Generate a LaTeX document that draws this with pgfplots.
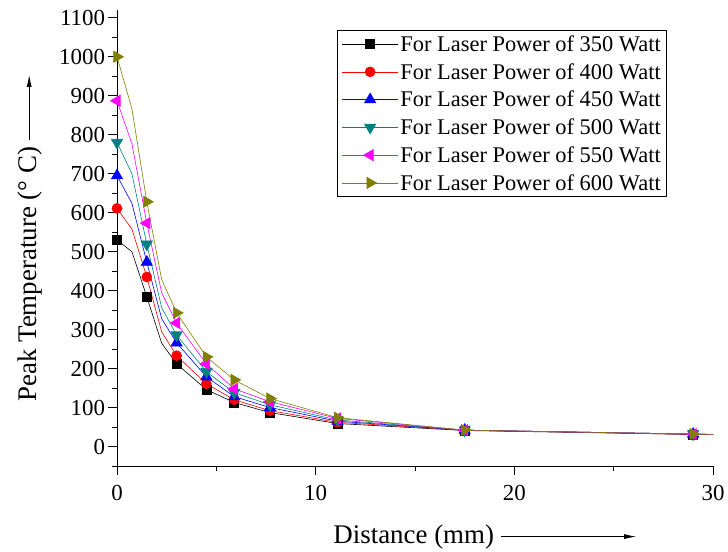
\documentclass[border=0pt]{standalone}
\usepackage{pgfplots}
\pgfplotsset{compat=1.18}
\usepackage{pgfplotstable}
\usepackage{fontspec}
\setmainfont{Liberation Serif}
\usetikzlibrary{arrows.meta}
\definecolor{cteal}{RGB}{0,128,128}
\definecolor{colive}{RGB}{128,128,0}
\definecolor{cmag}{RGB}{255,0,255}
\pgfplotstableread{
x     a     b     c     d     e     f
0     530   611   695   780   887   1000
0.75  500   558   624   700   777   867
1.5   384   435   473   519   573   628
2.25  265   294   328   356   394   428
3     212   233   266   286   317   343
4.5   146   161   179   192   212   230
5.9   113   120   128   138   148   171
7.7   87    92    100   107   115   123
11.1  59    62    65    68    72    74
17.5  41    42    42    42    42    42
29    31    31    32    32    32    32
30    31    31    31    31    31    31
}\data
\begin{document}
\begin{tikzpicture}
\begin{axis}[
  scale only axis,
  width=596bp, height=456bp,
  xmin=0, xmax=30, ymin=-50, ymax=1120,
  axis lines=left,
  axis line style={-, line width=1pt},
  tick align=outside,
  major tick length=8.5bp, minor tick length=4.5bp,
  tick style={line width=0.9pt, black},
  xtick={0,10,20,30}, minor xtick={5,15,25},
  ytick={0,100,...,1100}, minor ytick={-50,50,150,...,1050},
  ticklabel style={font=\fontsize{23}{26}\selectfont},
  /pgf/number format/assume math mode=true,
  /pgf/number format/1000 sep={},
  scaled ticks=false,
  xticklabel style={yshift=-7bp},
  yticklabel style={xshift=0bp},
  xlabel={Distance (mm) \tikz[baseline=-0.6ex]\draw[-{Latex[length=12bp,width=5bp]},line width=0.8pt] (0,0)--(135bp,0);},
  ylabel={Peak Temperature (° C) \tikz[baseline=-0.6ex]\draw[-{Latex[length=12bp,width=5bp]},line width=0.8pt] (0,0)--(65bp,0);},
  label style={font=\fontsize{27}{30}\selectfont},
  xlabel style={yshift=-18bp, xshift=70bp},
  ylabel style={yshift=10bp},
  legend cell align=left,
  legend style={at={(0.923,0.956)}, anchor=north east, draw=black, line width=0.8pt,
    font=\fontsize{22.5}{26}\selectfont, row sep=6.5bp, inner xsep=4bp, inner ysep=3bp},
  legend image code/.code={\draw[mark indices={2}, line width=0.6pt] plot coordinates {(-4bp,0bp) (24bp,0bp) (52bp,0bp)};},
  every axis plot/.append style={line width=0.6pt, mark indices={1,3,5,6,7,8,9,10,11}},
]
\addplot[black, mark=square*, mark size=4.5bp, mark options={solid}] table[x=x,y=a]{\data};
\addlegendentry{For Laser Power of 350 Watt}
\addplot[red, mark=*, mark size=5bp] table[x=x,y=b]{\data};
\addlegendentry{For Laser Power of 400 Watt}
\addplot[blue, mark=triangle*, mark size=6.5bp] table[x=x,y=c]{\data};
\addlegendentry{For Laser Power of 450 Watt}
\addplot[cteal, mark=triangle*, mark size=6.5bp, mark options={rotate=180}] table[x=x,y=d]{\data};
\addlegendentry{For Laser Power of 500 Watt}
\addplot[cmag, mark=triangle*, mark size=6.5bp, mark options={rotate=90}] table[x=x,y=e]{\data};
\addlegendentry{For Laser Power of 550 Watt}
\addplot[colive, mark=triangle*, mark size=6.5bp, mark options={rotate=-90}] table[x=x,y=f]{\data};
\addlegendentry{For Laser Power of 600 Watt}
\end{axis}
\pgfresetboundingbox
\path (current axis.south west) ++(-117bp,-86bp) rectangle ++(728bp,552bp);
\end{tikzpicture}
\end{document}
